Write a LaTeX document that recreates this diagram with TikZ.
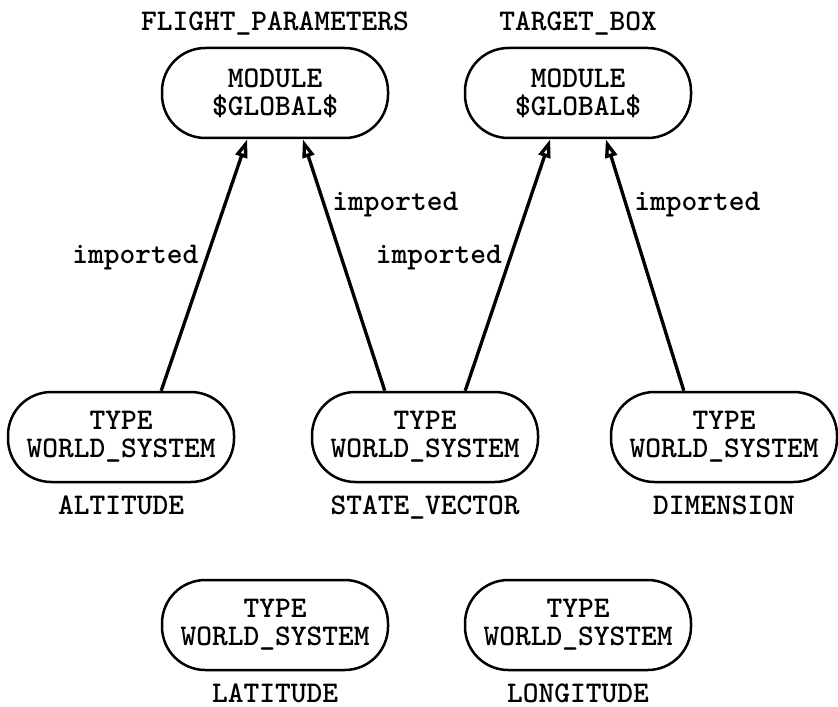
\documentclass[tikz,border=0pt]{standalone}
\usetikzlibrary{arrows.meta,positioning}
\tikzset{
  unit/.style={draw,line width=0.75pt,rounded corners=13pt,minimum width=67.8pt,
    minimum height=27pt,inner sep=1pt,align=center,
    font=\ttfamily\bfseries\fontsize{9}{8.4}\selectfont},
  tag/.style={inner sep=0pt,text height=5.5pt,text depth=0pt,
    font=\ttfamily\bfseries\fontsize{9}{10}\selectfont},
  imports/.style={-{Triangle[open,length=5.5pt,width=3.6pt]},line width=1pt},
  via/.style={inner sep=2pt,font=\ttfamily\bfseries\fontsize{9}{10}\selectfont}
}

\begin{document}
\begin{tikzpicture}[x=0.3pt,y=-0.3pt]
  \useasboundingbox (0,0) rectangle (838,706);
  % modules
  \node[unit] (fp) at (275,93) {MODULE\\\$GLOBAL\$};
  \node[unit] (tb) at (578,93) {MODULE\\\$GLOBAL\$};
  \node[tag, above=4.75pt of fp] (fpname) {FLIGHT\_PARAMETERS};
  \node[tag, above=4.75pt of tb] (tbname) {TARGET\_BOX};
  % types
  \node[unit] (alt) at (121,437) {TYPE\\WORLD\_SYSTEM};
  \node[unit] (sv) at (425,437) {TYPE\\WORLD\_SYSTEM};
  \node[unit] (dim) at (724,437) {TYPE\\WORLD\_SYSTEM};
  \node[unit] (lat) at (275,625) {TYPE\\WORLD\_SYSTEM};
  \node[unit] (lon) at (578,625) {TYPE\\WORLD\_SYSTEM};
  \node[tag, below=3.8pt of alt] (altname) {ALTITUDE};
  \node[tag, below=3.8pt of sv] (svname) {STATE\_VECTOR};
  \node[tag, below=3.8pt of dim] (dimname) {DIMENSION};
  \node[tag, below=3.8pt of lat] (latname) {LATITUDE};
  \node[tag, below=3.8pt of lon] (lonname) {LONGITUDE};
  % imports
  \draw[imports] (alt.49) -- (fp.-121) node[via, pos=0.53, left] {imported};
  \draw[imports] (sv.131) -- (fp.-59) node[via, pos=0.74, right] {imported};
  \draw[imports] (sv.49) -- (tb.-121) node[via, pos=0.53, left] {imported};
  \draw[imports] (dim.131) -- (tb.-59) node[via, pos=0.74, right] {imported};
\end{tikzpicture}
\end{document}
